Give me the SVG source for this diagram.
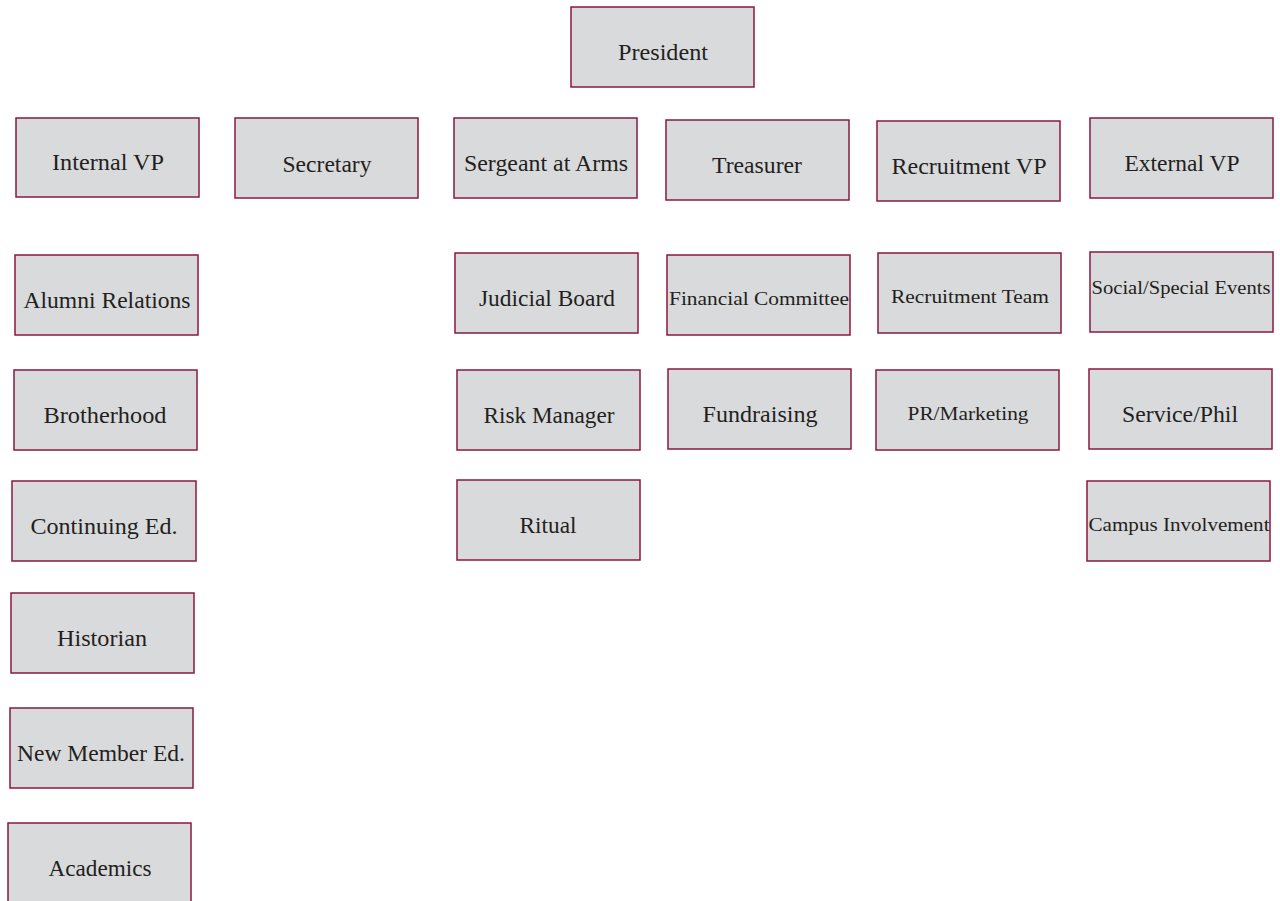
<svg xmlns="http://www.w3.org/2000/svg" width="1280" height="901" viewBox="0 0 1280 901">
<style>
.box{fill:#d9dadc;stroke:#8a1840;stroke-width:1.5}
.t{font-family:"Liberation Serif","DejaVu Serif",serif;font-size:23px;fill:#231f20;text-anchor:middle}
.s{font-size:19.5px}
</style>
<rect width="1280" height="901" fill="#ffffff"/>
<g id="connectors"></g>
<g id="president"><rect class="box" x="571" y="7" width="183" height="80"/><text class="t" x="663" y="60" textLength="90" lengthAdjust="spacingAndGlyphs">President</text></g>
<g id="internal-vp"><rect class="box" x="16" y="118" width="183" height="79"/><text class="t" x="108" y="170" textLength="112" lengthAdjust="spacingAndGlyphs">Internal VP</text></g>
<g id="secretary"><rect class="box" x="235" y="118" width="183" height="80"/><text class="t" x="327" y="172" textLength="89" lengthAdjust="spacingAndGlyphs">Secretary</text></g>
<g id="sergeant"><rect class="box" x="454" y="118" width="183" height="80"/><text class="t" x="546" y="171" textLength="164" lengthAdjust="spacingAndGlyphs">Sergeant at Arms</text></g>
<g id="treasurer"><rect class="box" x="666" y="120" width="183" height="80"/><text class="t" x="757" y="173" textLength="90" lengthAdjust="spacingAndGlyphs">Treasurer</text></g>
<g id="recruitment-vp"><rect class="box" x="877" y="121" width="183" height="80"/><text class="t" x="969" y="174" textLength="155" lengthAdjust="spacingAndGlyphs">Recruitment VP</text></g>
<g id="external-vp"><rect class="box" x="1090" y="118" width="183" height="80"/><text class="t" x="1182" y="171" textLength="115" lengthAdjust="spacingAndGlyphs">External VP</text></g>
<g id="alumni"><rect class="box" x="15" y="255" width="183" height="80"/><text class="t" x="107" y="308" textLength="167" lengthAdjust="spacingAndGlyphs">Alumni Relations</text></g>
<g id="brotherhood"><rect class="box" x="14" y="370" width="183" height="80"/><text class="t" x="105" y="423" textLength="123" lengthAdjust="spacingAndGlyphs">Brotherhood</text></g>
<g id="continuing-ed"><rect class="box" x="12" y="481" width="184" height="80"/><text class="t" x="104" y="534" textLength="147" lengthAdjust="spacingAndGlyphs">Continuing Ed.</text></g>
<g id="historian"><rect class="box" x="11" y="593" width="183" height="80"/><text class="t" x="102" y="646" textLength="90" lengthAdjust="spacingAndGlyphs">Historian</text></g>
<g id="new-member-ed"><rect class="box" x="10" y="708" width="183" height="80"/><text class="t" x="101" y="761" textLength="168" lengthAdjust="spacingAndGlyphs">New Member Ed.</text></g>
<g id="academics"><rect class="box" x="8" y="823" width="183" height="82"/><text class="t" x="100" y="876" textLength="103" lengthAdjust="spacingAndGlyphs">Academics</text></g>
<g id="judicial-board"><rect class="box" x="455" y="253" width="183" height="80"/><text class="t" x="547" y="306" textLength="136" lengthAdjust="spacingAndGlyphs">Judicial Board</text></g>
<g id="risk-manager"><rect class="box" x="457" y="370" width="183" height="80"/><text class="t" x="549" y="423" textLength="131" lengthAdjust="spacingAndGlyphs">Risk Manager</text></g>
<g id="ritual"><rect class="box" x="457" y="480" width="183" height="80"/><text class="t" x="548" y="533" textLength="57" lengthAdjust="spacingAndGlyphs">Ritual</text></g>
<g id="financial-committee"><rect class="box" x="667" y="255" width="183" height="80"/><text class="t s" x="759" y="305" textLength="180" lengthAdjust="spacingAndGlyphs">Financial Committee</text></g>
<g id="fundraising"><rect class="box" x="668" y="369" width="183" height="80"/><text class="t" x="760" y="422" textLength="115" lengthAdjust="spacingAndGlyphs">Fundraising</text></g>
<g id="recruitment-team"><rect class="box" x="878" y="253" width="183" height="80"/><text class="t s" x="970" y="303" textLength="158" lengthAdjust="spacingAndGlyphs">Recruitment Team</text></g>
<g id="pr-marketing"><rect class="box" x="876" y="370" width="183" height="80"/><text class="t s" x="968" y="420" textLength="121" lengthAdjust="spacingAndGlyphs">PR/Marketing</text></g>
<g id="social-events"><rect class="box" x="1090" y="252" width="183" height="80"/><text class="t s" x="1181" y="294" textLength="179" lengthAdjust="spacingAndGlyphs">Social/Special Events</text></g>
<g id="service-phil"><rect class="box" x="1089" y="369" width="183" height="80"/><text class="t" x="1180" y="422" textLength="116" lengthAdjust="spacingAndGlyphs">Service/Phil</text></g>
<g id="campus-involvement"><rect class="box" x="1087" y="481" width="183" height="80"/><text class="t s" x="1179" y="531" textLength="181" lengthAdjust="spacingAndGlyphs">Campus Involvement</text></g>
</svg>
